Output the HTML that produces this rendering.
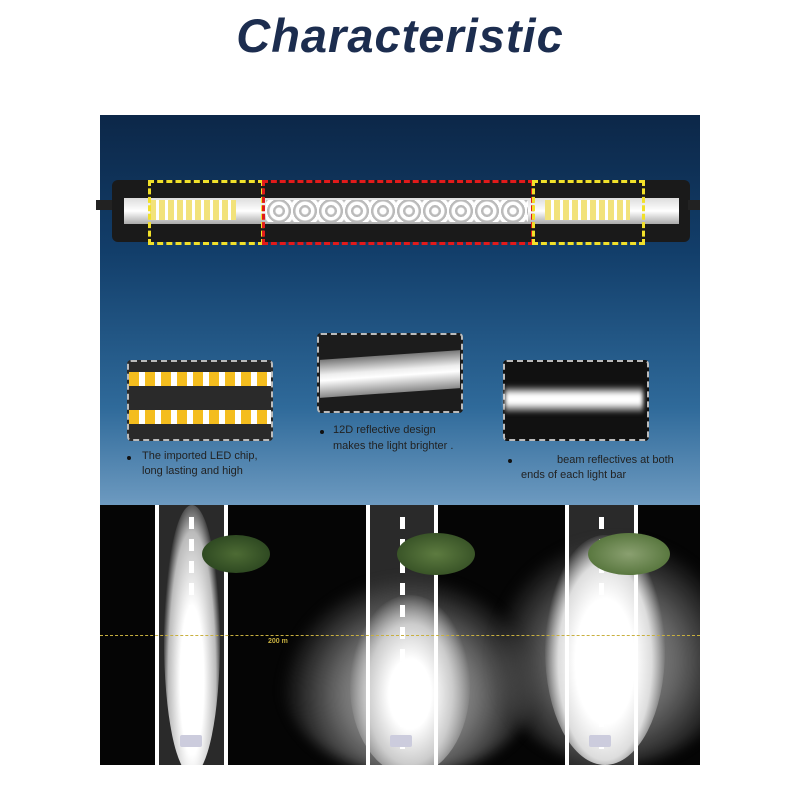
<!DOCTYPE html>
<html><head><style>
body{margin:0;width:800px;height:800px;background:#fff;position:relative;overflow:hidden;font-family:"Liberation Sans",sans-serif}
.a{position:absolute}
h1{position:absolute;left:0;top:8px;width:800px;text-align:center;margin:0;font:italic bold 47px "Liberation Sans",sans-serif;color:#1c2d4f;letter-spacing:1px}
.t{position:absolute;font-size:11px;color:#222;white-space:nowrap}
.dot{position:absolute;width:4px;height:4px;border-radius:50%;background:#111}
</style></head><body>
<h1>Characteristic</h1>
<div class="a" style="left:100px;top:115px;width:600px;height:390px;background:linear-gradient(180deg,#0c2748 0%,#123e6a 35%,#2f6a9a 75%,#6d9ac0 100%)"></div>
<!-- bar -->
<div class="a" style="left:112px;top:180px;width:578px;height:62px;background:#1a1a1a;border-radius:6px"></div>
<div class="a" style="left:124px;top:198px;width:555px;height:26px;background:linear-gradient(180deg,#ddd,#fff 50%,#aaa)"></div>
<div class="a" style="left:150px;top:200px;width:86px;height:20px;background:repeating-linear-gradient(90deg,#f2e27a 0 6px,#fff 6px 9px)"></div>
<div class="a" style="left:545px;top:200px;width:85px;height:20px;background:repeating-linear-gradient(90deg,#f2e27a 0 6px,#fff 6px 9px)"></div>
<div class="a" style="left:266px;top:200px;width:262px;height:22px;background:repeating-radial-gradient(circle at 50% 50%,#fff 0 3px,#bbb 4px 6px);background-size:26px 22px"></div>
<div class="a" style="left:148px;top:180px;width:110px;height:59px;border:3px dashed #f1e02a"></div>
<div class="a" style="left:262px;top:180px;width:266px;height:59px;border:3px dashed #e21a1a"></div>
<div class="a" style="left:532px;top:180px;width:107px;height:59px;border:3px dashed #f1e02a"></div>
<div class="a" style="left:96px;top:200px;width:16px;height:10px;background:#222"></div>
<div class="a" style="left:688px;top:200px;width:12px;height:10px;background:#222"></div>
<!-- boxes -->
<div class="a" style="left:127px;top:360px;width:142px;height:77px;background:#2a2a2a;border:2px dashed #bbb;border-radius:4px"></div>
<div class="a" style="left:129px;top:372px;width:142px;height:14px;background:repeating-linear-gradient(90deg,#f4bd1e 0 10px,#fff 10px 16px)"></div>
<div class="a" style="left:129px;top:410px;width:142px;height:14px;background:repeating-linear-gradient(90deg,#f4bd1e 0 10px,#fff 10px 16px)"></div>
<div class="a" style="left:317px;top:333px;width:142px;height:76px;background:#1c1c1c;border:2px dashed #bbb;border-radius:4px"></div>
<div class="a" style="left:320px;top:355px;width:140px;height:38px;background:linear-gradient(180deg,#777,#eee 40%,#fff 55%,#888);transform:skewY(-4deg)"></div>
<div class="a" style="left:503px;top:360px;width:142px;height:77px;background:#111;border:2px dashed #bbb;border-radius:4px"></div>
<div class="a" style="left:505px;top:385px;width:138px;height:28px;background:linear-gradient(180deg,#111,#fff 35%,#fff 65%,#333);filter:blur(2px)"></div>
<div class="dot" style="left:127px;top:456px"></div>
<div class="t" style="left:142px;top:450px">The imported LED chip,</div>
<div class="t" style="left:142px;top:465px">long lasting and high</div>
<div class="dot" style="left:320px;top:430px"></div>
<div class="t" style="left:333px;top:424px">12D reflective design</div>
<div class="t" style="left:333px;top:440px">makes the light brighter .</div>
<div class="dot" style="left:508px;top:459px"></div>
<div class="t" style="left:557px;top:454px">beam reflectives at both</div>
<div class="t" style="left:521px;top:469px">ends of each light bar</div>
<!-- night -->
<div class="a" style="left:100px;top:505px;width:600px;height:260px;background:#050505;overflow:hidden">
 <div class="a" style="left:57px;top:0;width:70px;height:260px;background:#2a2a2a"></div>
 <div class="a" style="left:268px;top:0;width:70px;height:260px;background:#2a2a2a"></div>
 <div class="a" style="left:467px;top:0;width:70px;height:260px;background:#2a2a2a"></div>
 <div class="a" style="left:64px;top:0px;width:56px;height:270px;border-radius:50%;background:radial-gradient(ellipse at 50% 65%,#fff 30%,#bbb 60%,rgba(80,80,80,0) 75%)"></div>
 <div class="a" style="left:180px;top:70px;width:260px;height:200px;border-radius:50%;background:radial-gradient(ellipse at 50% 60%,#aaa 0%,#777 35%,rgba(40,40,40,0) 70%);filter:blur(6px)"></div>
 <div class="a" style="left:250px;top:90px;width:120px;height:180px;border-radius:50%;background:radial-gradient(ellipse at 50% 55%,#fff 25%,#ccc 50%,rgba(120,120,120,0) 72%)"></div>
 <div class="a" style="left:390px;top:30px;width:250px;height:230px;border-radius:50%;background:radial-gradient(ellipse at 50% 55%,#999 0%,#666 35%,rgba(30,30,30,0) 70%);filter:blur(6px)"></div>
 <div class="a" style="left:445px;top:30px;width:120px;height:230px;border-radius:50%;background:radial-gradient(ellipse at 50% 55%,#fff 35%,#ddd 55%,rgba(150,150,150,0) 72%)"></div>
 <div class="a" style="left:55px;top:0;width:4px;height:260px;background:#fff"></div>
 <div class="a" style="left:124px;top:0;width:4px;height:260px;background:#fff"></div>
 <div class="a" style="left:266px;top:0;width:4px;height:260px;background:#fff"></div>
 <div class="a" style="left:334px;top:0;width:4px;height:260px;background:#fff"></div>
 <div class="a" style="left:465px;top:0;width:4px;height:260px;background:#fff"></div>
 <div class="a" style="left:534px;top:0;width:4px;height:260px;background:#fff"></div>
 <div class="a" style="left:89px;top:12px;width:5px;height:240px;background:repeating-linear-gradient(180deg,#fff 0 12px,transparent 12px 22px)"></div>
 <div class="a" style="left:300px;top:12px;width:5px;height:240px;background:repeating-linear-gradient(180deg,#fff 0 12px,transparent 12px 22px)"></div>
 <div class="a" style="left:499px;top:12px;width:5px;height:240px;background:repeating-linear-gradient(180deg,#fff 0 12px,transparent 12px 22px)"></div>
 <div class="a" style="left:102px;top:30px;width:68px;height:38px;border-radius:50%;background:radial-gradient(#4d6b34,#2f4a22 70%,rgba(0,0,0,0))"></div>
 <div class="a" style="left:297px;top:28px;width:78px;height:42px;border-radius:50%;background:radial-gradient(#5d7b40,#3a5528 70%,rgba(0,0,0,0))"></div>
 <div class="a" style="left:488px;top:28px;width:82px;height:42px;border-radius:50%;background:radial-gradient(#8aa070,#5a7840 70%,rgba(0,0,0,0))"></div>
 <div class="a" style="left:0;top:130px;width:600px;height:0;border-top:1px dashed #c8b040"></div>
 <div class="a" style="left:168px;top:133px;font-size:7px;color:#c8b040;font-weight:bold">200 m</div>
 <div class="a" style="left:80px;top:230px;width:22px;height:12px;background:#ccd;border-radius:2px"></div>
 <div class="a" style="left:290px;top:230px;width:22px;height:12px;background:#ccd;border-radius:2px"></div>
 <div class="a" style="left:489px;top:230px;width:22px;height:12px;background:#ccd;border-radius:2px"></div>
</div>
</body></html>
